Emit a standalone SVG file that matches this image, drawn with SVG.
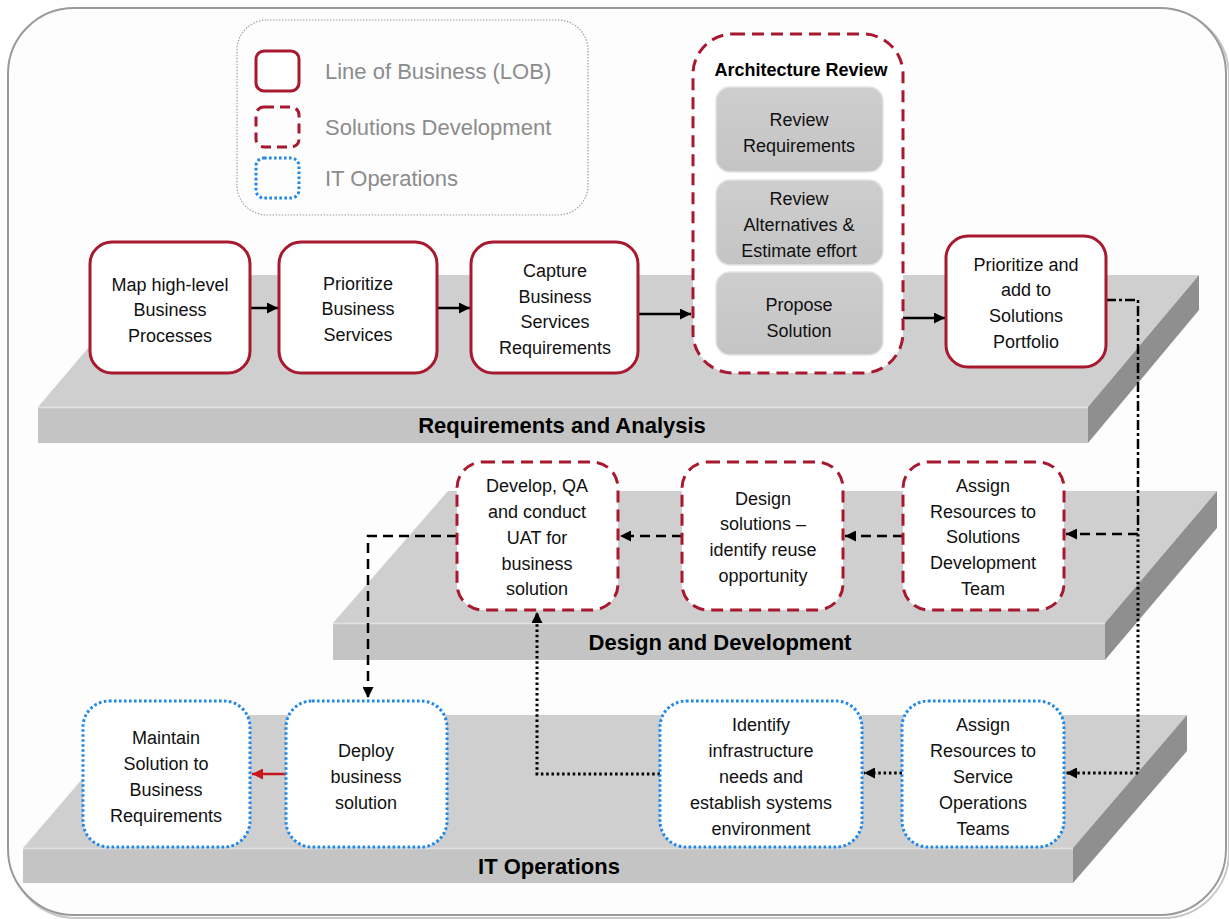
<svg xmlns="http://www.w3.org/2000/svg" width="1229" height="919" viewBox="0 0 1229 919">
  <defs>
    <style>
      .frame { fill: #fdfdfd; stroke: #9a9a9a; stroke-width: 2; }
      .legend { fill: none; stroke: #a0a0a0; stroke-width: 1.2; stroke-dasharray: 1.5 1.5; }
      .legtxt { font-family: "Liberation Sans", Arial, sans-serif; font-size: 22px; fill: #8c8c8c; }
      .ptop { fill: #cfcfcf; }
      .pfront { fill: #c4c4c4; }
      .pside { fill: #8f8f8f; }
      .pedge { stroke: #e2e2e2; stroke-width: 1.5; }
      .plabel { font-family: "Liberation Sans", Arial, sans-serif; font-size: 22px; font-weight: bold; fill: #000; text-anchor: middle; }
      .lob { fill: #fff; stroke: #a8182f; stroke-width: 3; }
      .sol { fill: #fff; stroke: #a8182f; stroke-width: 3; stroke-dasharray: 12 7; }
      .itop { fill: #fff; stroke: #1f88e8; stroke-width: 3; stroke-dasharray: 2.6 2.4; }
      .sub { fill: url(#subfill); stroke: #e4e4e4; stroke-width: 1.5; }
      .txt { font-family: "Liberation Sans", Arial, sans-serif; font-size: 18px; fill: #111; text-anchor: middle; }
      .title { font-family: "Liberation Sans", Arial, sans-serif; font-size: 18px; font-weight: bold; fill: #000; text-anchor: middle; }
      .solid { fill: none; stroke: #000; stroke-width: 2.5; }
      .dash { fill: none; stroke: #000; stroke-width: 2.5; stroke-dasharray: 10 6; }
      .dot { fill: none; stroke: #000; stroke-width: 3; stroke-dasharray: 2.5 2.8; }
      .dashdot { fill: none; stroke: #000; stroke-width: 2.5; stroke-dasharray: 10 3 3 3; }
      .red { fill: none; stroke: #c8161e; stroke-width: 2.5; }
    </style>
    <linearGradient id="subfill" x1="0" y1="0" x2="0" y2="1">
      <stop offset="0" stop-color="#cecece"/>
      <stop offset="1" stop-color="#c4c4c4"/>
    </linearGradient>
    <marker id="ah" viewBox="0 0 10 10" refX="10" refY="5" markerWidth="11" markerHeight="11" markerUnits="userSpaceOnUse" orient="auto">
      <path d="M0,0 L10,5 L0,10 z" fill="#000"/>
    </marker>
    <marker id="ahr" viewBox="0 0 10 10" refX="10" refY="5" markerWidth="11" markerHeight="11" markerUnits="userSpaceOnUse" orient="auto">
      <path d="M0,0 L10,5 L0,10 z" fill="#c8161e"/>
    </marker>
  </defs>

  <!-- outer frame with soft shadow -->
  <rect x="10" y="10" width="1219" height="908" rx="66" fill="none" stroke="#c8c8c8" stroke-width="2"/>
  <rect class="frame" x="8" y="8" width="1218" height="907" rx="66"/>

  <!-- legend -->
  <g id="legend">
    <rect class="legend" x="237" y="20" width="351" height="195" rx="30"/>
    <rect class="lob" x="256" y="51" width="43" height="40" rx="8"/>
    <rect x="256" y="107" width="43" height="40" rx="8" fill="none" stroke="#a8182f" stroke-width="3" stroke-dasharray="10 6"/>
    <rect x="256" y="158" width="43" height="40" rx="8" fill="none" stroke="#1f88e8" stroke-width="3" stroke-dasharray="2.6 2.4"/>
    <text class="legtxt" x="325" y="79">Line of Business (LOB)</text>
    <text class="legtxt" x="325" y="135">Solutions Development</text>
    <text class="legtxt" x="325" y="186">IT Operations</text>
  </g>

  <!-- platforms -->
  <g id="platform-requirements">
    <polygon class="ptop" points="38,407 150,275 1199,275 1088,407"/>
    <polygon class="pside" points="1088,407 1199,275 1199,310 1088,443"/>
    <rect class="pfront" x="38" y="407" width="1050" height="36"/>
    <line class="pedge" x1="38" y1="407.5" x2="1088" y2="407.5"/>
    <text class="plabel" x="562" y="433">Requirements and Analysis</text>
  </g>
  <g id="platform-design">
    <polygon class="ptop" points="333,623 448,491 1217,491 1105,623"/>
    <polygon class="pside" points="1105,623 1217,491 1217,528 1105,660"/>
    <rect class="pfront" x="333" y="623" width="772" height="37"/>
    <line class="pedge" x1="333" y1="623.5" x2="1105" y2="623.5"/>
    <text class="plabel" x="720" y="650">Design and Development</text>
  </g>
  <g id="platform-it">
    <polygon class="ptop" points="23,848 137,715 1187,715 1073,848"/>
    <polygon class="pside" points="1073,848 1187,715 1187,751 1073,883"/>
    <rect class="pfront" x="23" y="848" width="1050" height="35"/>
    <line class="pedge" x1="23" y1="848.5" x2="1073" y2="848.5"/>
    <text class="plabel" x="549" y="874">IT Operations</text>
  </g>

  <!-- connectors -->
  <g id="connectors">
    <line class="solid" x1="250" y1="308" x2="278" y2="308" marker-end="url(#ah)"/>
    <line class="solid" x1="437" y1="308" x2="470" y2="308" marker-end="url(#ah)"/>
    <line class="solid" x1="638" y1="314" x2="691" y2="314" marker-end="url(#ah)"/>
    <line class="solid" x1="903" y1="318" x2="945" y2="318" marker-end="url(#ah)"/>
    <polyline class="dashdot" points="1106,300 1138,300 1138,534"/>
    <line class="dash" x1="1138" y1="534" x2="1066" y2="534" marker-end="url(#ah)"/>
    <line class="dot" x1="1138" y1="534" x2="1138" y2="773"/>
    <line class="dot" x1="1138" y1="773" x2="1066" y2="773" marker-end="url(#ah)"/>
    <line class="dash" x1="903" y1="536" x2="845" y2="536" marker-end="url(#ah)"/>
    <line class="dash" x1="682" y1="536" x2="620" y2="536" marker-end="url(#ah)"/>
    <polyline class="dash" points="457,536 368,536 368,698" marker-end="url(#ah)"/>
    <line class="dot" x1="902" y1="773" x2="864" y2="773" marker-end="url(#ah)"/>
    <polyline class="dot" points="660,774 537,774 537,612" marker-end="url(#ah)"/>
    <line class="red" x1="286" y1="774" x2="252" y2="774" marker-end="url(#ahr)"/>
  </g>

  <!-- requirements and analysis row -->
  <g id="map-processes">
    <rect class="lob" x="90" y="242" width="160" height="131" rx="22"/>
    <text class="txt" x="170" y="291">Map high-level</text>
    <text class="txt" x="170" y="316">Business</text>
    <text class="txt" x="170" y="342">Processes</text>
  </g>
  <g id="prioritize-services">
    <rect class="lob" x="279" y="242" width="158" height="131" rx="22"/>
    <text class="txt" x="358" y="290">Prioritize</text>
    <text class="txt" x="358" y="315">Business</text>
    <text class="txt" x="358" y="341">Services</text>
  </g>
  <g id="capture-requirements">
    <rect class="lob" x="471" y="242" width="167" height="131" rx="22"/>
    <text class="txt" x="555" y="277">Capture</text>
    <text class="txt" x="555" y="303">Business</text>
    <text class="txt" x="555" y="328">Services</text>
    <text class="txt" x="555" y="354">Requirements</text>
  </g>
  <g id="architecture-review">
    <rect class="sol" x="693" y="34" width="210" height="339" rx="40"/>
    <text class="title" x="801" y="76">Architecture Review</text>
    <g id="review-requirements">
      <rect class="sub" x="716" y="87" width="167" height="85" rx="14"/>
      <text class="txt" x="799" y="126">Review</text>
      <text class="txt" x="799" y="152">Requirements</text>
    </g>
    <g id="review-alternatives">
      <rect class="sub" x="716" y="180" width="167" height="85" rx="14"/>
      <text class="txt" x="799" y="205">Review</text>
      <text class="txt" x="799" y="231">Alternatives &amp;</text>
      <text class="txt" x="799" y="257">Estimate effort</text>
    </g>
    <g id="propose-solution">
      <rect class="sub" x="716" y="272" width="167" height="83" rx="14"/>
      <text class="txt" x="799" y="311">Propose</text>
      <text class="txt" x="799" y="337">Solution</text>
    </g>
  </g>
  <g id="solutions-portfolio">
    <rect class="lob" x="946" y="236" width="160" height="131" rx="22"/>
    <text class="txt" x="1026" y="271">Prioritize and</text>
    <text class="txt" x="1026" y="296">add to</text>
    <text class="txt" x="1026" y="322">Solutions</text>
    <text class="txt" x="1026" y="348">Portfolio</text>
  </g>

  <!-- design and development row -->
  <g id="develop-qa-uat">
    <rect class="sol" x="457" y="462" width="161" height="148" rx="26"/>
    <text class="txt" x="537" y="492">Develop, QA</text>
    <text class="txt" x="537" y="518">and conduct</text>
    <text class="txt" x="537" y="544">UAT for</text>
    <text class="txt" x="537" y="570">business</text>
    <text class="txt" x="537" y="595">solution</text>
  </g>
  <g id="design-solutions">
    <rect class="sol" x="682" y="462" width="161" height="148" rx="26"/>
    <text class="txt" x="763" y="505">Design</text>
    <text class="txt" x="763" y="530">solutions –</text>
    <text class="txt" x="763" y="556">identify reuse</text>
    <text class="txt" x="763" y="582">opportunity</text>
  </g>
  <g id="assign-solutions-team">
    <rect class="sol" x="903" y="462" width="161" height="148" rx="26"/>
    <text class="txt" x="983" y="492">Assign</text>
    <text class="txt" x="983" y="518">Resources to</text>
    <text class="txt" x="983" y="543">Solutions</text>
    <text class="txt" x="983" y="569">Development</text>
    <text class="txt" x="983" y="595">Team</text>
  </g>

  <!-- IT operations row -->
  <g id="maintain-solution">
    <rect class="itop" x="83" y="701" width="167" height="146" rx="26"/>
    <text class="txt" x="166" y="744">Maintain</text>
    <text class="txt" x="166" y="770">Solution to</text>
    <text class="txt" x="166" y="796">Business</text>
    <text class="txt" x="166" y="822">Requirements</text>
  </g>
  <g id="deploy-solution">
    <rect class="itop" x="286" y="701" width="161" height="146" rx="26"/>
    <text class="txt" x="366" y="757">Deploy</text>
    <text class="txt" x="366" y="783">business</text>
    <text class="txt" x="366" y="809">solution</text>
  </g>
  <g id="identify-infrastructure">
    <rect class="itop" x="660" y="701" width="202" height="146" rx="26"/>
    <text class="txt" x="761" y="731">Identify</text>
    <text class="txt" x="761" y="757">infrastructure</text>
    <text class="txt" x="761" y="783">needs and</text>
    <text class="txt" x="761" y="809">establish systems</text>
    <text class="txt" x="761" y="835">environment</text>
  </g>
  <g id="assign-operations-teams">
    <rect class="itop" x="902" y="701" width="162" height="146" rx="26"/>
    <text class="txt" x="983" y="731">Assign</text>
    <text class="txt" x="983" y="757">Resources to</text>
    <text class="txt" x="983" y="783">Service</text>
    <text class="txt" x="983" y="809">Operations</text>
    <text class="txt" x="983" y="835">Teams</text>
  </g>
</svg>
